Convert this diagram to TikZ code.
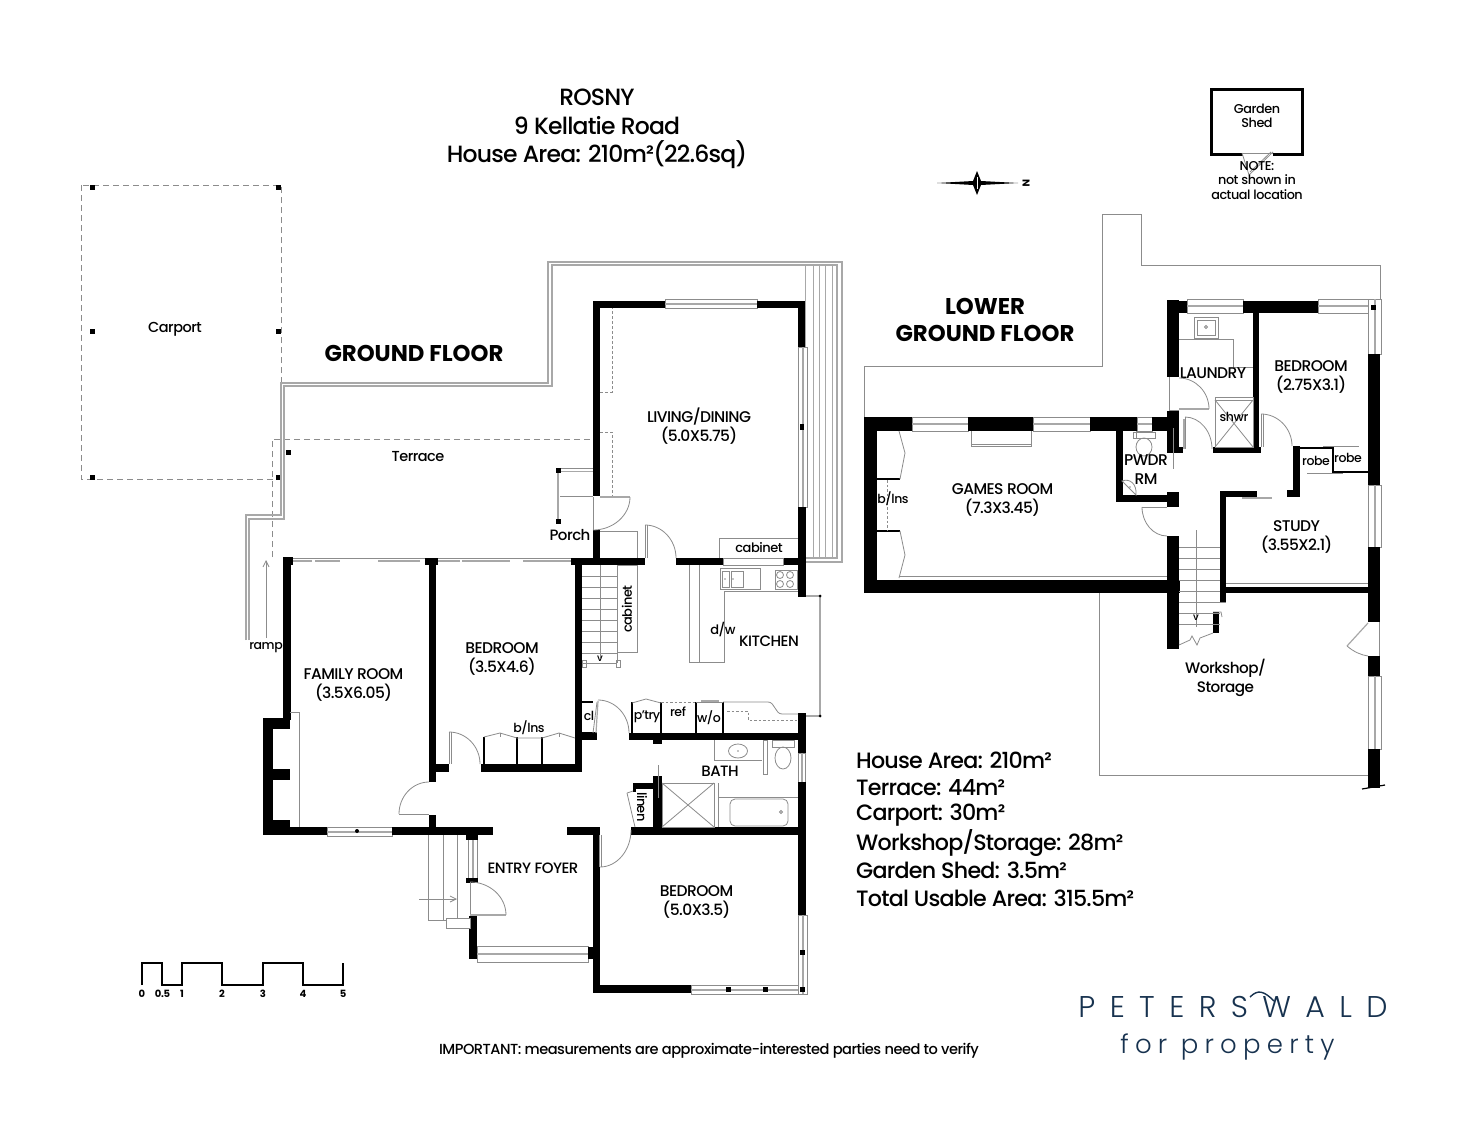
\documentclass[tikz,border=0pt]{standalone}
\usepackage{fontspec}
\usetikzlibrary{calc,arrows.meta}
\setmainfont{Poppins Medium}[BoldFont={Poppins Bold}]
\newfontfamily\lightf{Poppins Light}
\definecolor{gy}{HTML}{8C8C8C}
\definecolor{gl}{HTML}{A8A8A8}
\definecolor{navy}{HTML}{17324F}
\tikzset{
 gt/.style={draw=gy,line width=.8pt},
 gk/.style={draw=gl,line width=2pt},
 bk/.style={draw=black,line width=1.6pt},
 dsh/.style={draw=gy,line width=.8pt,dash pattern=on 6pt off 4pt},
 lbl/.style={inner sep=0pt,align=center,text=black},
 tx/.style 2 args={font=\F{#1}{#2}},
}
\newcommand{\F}[2]{\fontsize{#1}{#2}\selectfont\addfontfeature{LetterSpace=-3.5}}
\newcommand{\walls}[1]{\foreach \a/\b/\c/\d in {#1}{\fill[black] (\a,\b) rectangle (\c,\d);}}
\newcommand{\darc}[6]{\draw[gt] (#1,#2) .. controls ($(#1,#2)!.55!(#3,#4)$) and ($(#5,#6)!.55!(#3,#4)$) .. (#5,#6);}
\newcommand{\hwin}[4]{\draw[gt,fill=white] (#1,#2) rectangle (#3,#4);\draw[gk] (#1,{(#2+#4)/2}) -- (#3,{(#2+#4)/2});}
\newcommand{\vwin}[4]{\draw[gt,fill=white] (#1,#2) rectangle (#3,#4);\draw[gk] ({(#1+#3)/2},#2) -- ({(#1+#3)/2},#4);}
\newcommand{\post}[2]{\fill[black] (#1-2.5,#2-2.5) rectangle (#1+2.5,#2+2.5);}
\begin{document}
\begin{tikzpicture}[x=1pt,y=-1pt]
\useasboundingbox (0,0) rectangle (1472,1137);
\fill[white] (0,0) rectangle (1472,1137);

% ---------- titles
\node[lbl,tx={23.5}{26}] (t1) at (597,97) {ROSNY};
\node[lbl,tx={23.5}{26}] (t2) at (597,126) {9 Kellatie Road};
\node[lbl,tx={23.5}{26}] (t3) at (597,155) {House Area: 210m²(22.6sq)};
\node[lbl,font=\fontsize{22.8}{24}\selectfont\bfseries] (gf) at (414,353) {GROUND FLOOR};
\node[lbl,font=\fontsize{22.8}{27.5}\selectfont\bfseries] (lg) at (985,320) {LOWER\\GROUND FLOOR};

% ---------- carport
\draw[dsh] (81,185) rectangle (281,479);
\foreach \x/\y in {92/187,278/187,92/331,278/331,92/477,278/477,288/452}{\post{\x}{\y}}
\node[lbl,tx={14.5}{16}] (carport) at (175,329) {Carport};
\node[lbl,tx={14.5}{16}] (terrace) at (418,457) {Terrace};

% ---------- terrace rails
\draw[dsh] (272,557) -- (272,439) -- (592,439);
\draw[gk,line width=1.1pt] (246,640) -- (246,515) -- (281,515) -- (281,383) -- (548,383) -- (548,262) -- (842,262) -- (842,562) -- (806,562);
\draw[gk,line width=1.1pt] (249,640) -- (249,519) -- (284,519) -- (284,386) -- (552,386) -- (552,265) -- (837,265) -- (837,558) -- (806,558);
\foreach \x in {805,813,819,825,832}{\draw[draw=gl,line width=.7pt] (\x,265) -- (\x,558);}
\draw[gt,-{Straight Barb[length=6pt,width=6pt]}] (266,638) -- (266,560);
\node[lbl,tx={12.5}{14}] (ramp) at (266,648) {ramp};

% ---------- ground floor windows
\hwin{665}{299}{757}{308}
\hwin{327}{827}{392}{836}
\hwin{477}{946}{588}{962}
\vwin{468}{838}{477}{880}
\hwin{691}{985}{807}{994}
\vwin{798}{915}{807}{994}
\vwin{798}{347}{807}{507}
\vwin{798}{753}{805}{782}
\foreach \x/\y in {728/989,765/989,802/989,802/952}{\post{\x}{\y}}
\fill (800,424) rectangle (804,430);
\fill (357,831) circle (2);
% sliding doors along terrace wall
\draw[gt] (293,558) -- (571,558);
\foreach \a/\b in {293/312,315/340,378/420,438/460,462/510,523/571}{\draw[gl,line width=2pt] (\a,561) -- (\b,561);}

% ---------- ground floor walls
\walls{593/301/600/496, 593/530/600/558, 593/301/665/308, 757/301/805/308, 798/301/805/347,
 798/507/806/597, 798/713/806/753, 798/782/806/850, 798/835/806/915,
 571/558/645/565, 676/558/723/565, 783/558/806/565,
 283/557/293/565, 283/557/291/720, 263/718/290/729, 263/718/273/835, 273/769/290/780, 273/820/290/835,
 263/827/327/835, 392/827/493/835,
 429/558/436/782, 425/558/438/565, 429/815/436/830, 436/764/449/772,
 481/764/582/772, 575/558/582/772, 582/732/597/740,
 629/733/806/740, 653/740/662/744,
 653/776/662/830, 633/783/653/789, 633/783/636/792, 631/827/798/835,
 567/827/600/835, 593/827/600/993, 593/985/691/993,
 469/916/477/959, 588/947/597/959, 466/835/478/840, 466/878/478/883}
\foreach \x in {632,661,696,723}{\draw[bk,line width=1.8pt] (\x,702) -- (\x,733);}
\draw[bk] (582,702) -- (593,702);

% deck/porch area
\draw[gk] (558,470) -- (558,521);
\draw[gt] (558,468.5) -- (593,468.5); \draw[gk,line width=1.2pt] (558,471.5) -- (593,471.5);
\draw[gt] (560,496) -- (593,496);
\draw[gt] (593,497) -- (593,530);
\draw[gk] (600,497) -- (630,497);
\darc{630}{497}{630}{530}{593}{530}
\post{558}{470}\post{558}{521}
\node[lbl,tx={15}{17}] (porch) at (570,535) {Porch};
\draw[gt] (600,531) -- (637,531) -- (637,558);
\draw[dsh,dash pattern=on 3pt off 2pt] (600,392) -- (612,392) -- (612,308);
\draw[dsh,dash pattern=on 3pt off 2pt] (600,432) -- (612,432) -- (612,496);

% stairs
\foreach \y in {576,587,598,609,620,631,642,653}{\draw[gt] (582,\y) -- (617,\y);}
\draw[gt] (600,565) -- (600,658);
\draw[gt] (617,565) -- (617,663);
\draw[gt] (582,663) -- (617,663);
\draw[gt] (582,660) rectangle (586,667); \draw[gt] (616,660) rectangle (620,667);
\node[lbl,tx={10}{11}] (dn1) at (600,659) {v};
\draw[gt] (617,565) -- (637,565) -- (637,652) -- (617,652);
\node[lbl,rotate=90,tx={13}{15}] (cab1) at (627,609) {cabinet};

% living door
\draw[gt] (645,525) -- (645,558); \draw[gt] (647,525) -- (647,558);
\darc{645}{525}{676}{525}{676}{558}

% kitchen
\draw[gt] (719,558) -- (719,538) -- (798,538);
\draw[gt] (723,558.5) rectangle (783,565);
\node[lbl,tx={13}{15}] (cab2) at (759,548) {cabinet};
\draw[gt] (689,565) -- (689,662) -- (724,662) -- (724,591) -- (798,591);
\draw[gt] (699,565) -- (699,662);
\draw[gt] (720,568) rectangle (760,589);
\draw[gt] (722,571) rectangle (729,587); \draw[gt] (731,571) rectangle (743,587);
\fill[gy] (725,579) circle (.9); \fill[gy] (733,579) circle (.9);
\draw[gt] (775,570) rectangle (797,589);
\foreach \x/\y in {780/575,790/575,780/584,790/584}{\draw[gt] (\x,\y) circle (3.5);}
\node[lbl,tx={13}{15}] (dw) at (723,629) {d/w};
\node[lbl,tx={15}{17}] (kitchen) at (769,641.5) {KITCHEN};
\draw[gk,line width=1.3pt] (806,596) -- (820,596) -- (820,716) -- (806,716);
\fill (820,596) circle (1.5); \fill (820,716) circle (1.5);
\draw[gt] (632,703) -- (646,699) -- (661,703);
\draw[dsh,dash pattern=on 2.5pt off 2pt] (661,702) -- (696,702);
\draw[gt] (696,702) -- (723,702);
\draw[gk,line width=1.5pt] (701,701) -- (719,701);
\draw[gt] (723,702) -- (768,702) .. controls (775,702) and (775,714) .. (782,714) -- (798,714);
\draw[dsh,dash pattern=on 2.5pt off 2pt] (727,711) -- (748,711) -- (748,720) -- (798,720);
\node[lbl,tx={12.5}{14}] (cl) at (589,716) {cl};
\node[lbl,tx={12.5}{14}] (ptry) at (647,716.5) {p'try};
\node[lbl,tx={12.5}{14}] (ref) at (678,711.5) {ref};
\node[lbl,tx={12.5}{14}] (wo) at (709,717.5) {w/o};
% cl door
\draw[gt] (593,733) -- (597,702);
\draw[gk,line width=1.2pt] (596,733) -- (598,701);
\darc{598}{700}{629}{700}{629}{733}

% bath
\node[lbl,tx={15}{17}] (bath) at (720,771.5) {BATH};
\draw[gt] (714,740) -- (714,760) -- (762,760);
\draw[gt] (738,751) ellipse (9.5 and 7); \fill[gy] (738,751) circle (.8);
\draw[gt] (763,740) rectangle (767,774);
\draw[gt] (772,740) rectangle (794,747);
\draw[gt] (783,758) ellipse (8 and 11);
\draw[gt] (662,783) rectangle (714,827);
\draw[gt] (662,783) -- (714,827); \draw[gt] (662,827) -- (714,783);
\draw[gt] (718,783) -- (718,827);
\draw[gt] (718,797) -- (798,797);
\draw[gt,rounded corners=5pt] (730,799) rectangle (788,826);
\draw[gt] (781,812) circle (1.5);
\draw[gt] (658,765) -- (658,798);
\draw[gt] (627,793) -- (635,827); \draw[gt] (627,793) -- (633,791);
\node[lbl,rotate=-90,tx={13}{15}] (linen) at (642,807) {linen};

% family room
\draw[gt] (290,712) -- (299,712) -- (299,827);
\darc{429}{782}{399}{782}{399}{814}
\draw[gt] (399,814) -- (429,814);
\node[lbl,tx={15.5}{19}] (fam) at (353.5,685) {FAMILY ROOM\\(3.5X6.05)};
\draw[gt] (449,732) -- (449,764); \draw[gt] (451,732) -- (451,764);
\darc{449}{732}{480}{732}{480}{764}
\node[lbl,tx={15.5}{19}] (bed1) at (502,658.5) {BEDROOM\\(3.5X4.6)};
\foreach \x in {484,517,542}{\draw[bk] (\x,737) -- (\x,764);}
\draw[gt] (484,737) -- (500,733) -- (517,738) -- (542,738) -- (559,733) -- (575,738);
\draw[gt] (500,733) -- (500,737); \draw[gt] (559,733) -- (559,737);
\node[lbl,tx={12.5}{14}] (bins) at (529,728) {b/lns};

% entry
\foreach \x in {428,443,457}{\draw[gt] (\x,835) -- (\x,920);}
\draw[gt] (428,920) -- (446,920);
\draw[gt,fill=white] (446,918) rectangle (470,928);
\draw[gt,-{Straight Barb[length=6pt,width=6pt]}] (419,899) -- (457,899);
\draw[gt] (470,882) -- (470,916);
\draw[gk,line width=1.2pt] (470,915) -- (506,915);
\darc{506}{915}{506}{882}{470}{882}
\node[lbl,tx={15}{17}] (entry) at (533,868.5) {ENTRY FOYER};
\draw[gt] (601,835) -- (601,867); \draw[gt] (599.5,835) -- (599.5,867);
\darc{600}{867}{631}{867}{631}{830}
\node[lbl,tx={15.5}{19}] (bed2) at (696.5,902) {BEDROOM\\(5.0X3.5)};
\node[lbl,tx={15.5}{19}] (living) at (699,426) {LIVING/DINING\\(5.0X5.75)};

% ---------- scale
\draw[bk,line width=1.3pt] (142,985) -- (142,963) -- (162,963) -- (162,985) -- (182,985) -- (182,963) -- (222,963) -- (222,985) -- (263,985) -- (263,963) -- (303,963) -- (303,985) -- (343,985) -- (343,963);
\foreach \x/\t/\n in {142/0/s0,162.5/0.5/s1,182/1/s2,222/2/s3,263/3/s4,303/4/s5,343/5/s6}{\node[lbl] (\n) at (\x,994) {\fontsize{10}{11}\selectfont\bfseries\addfontfeature{LetterSpace=-3} \t};}

% ---------- shed and compass
\draw[black,line width=3pt] (1243,154) -- (1211.5,154) -- (1211.5,89.5) -- (1302.5,89.5) -- (1302.5,154) -- (1273,154);
\draw[gt] (1242,153) -- (1273,153);
\draw[gt] (1242,153) -- (1249,175) -- (1273,152);
\draw[gt] (1250,172) -- (1271,152);
\node[lbl,tx={12.8}{14.5}] (shed) at (1257,116) {Garden\\Shed};
\node[lbl,tx={12.8}{14.5}] (note) at (1257,180.5) {NOTE:\\not shown in\\actual location};
\fill (937,183) -- (973,181) -- (977,171) -- (981,181) -- (1018,183) -- (981,185) -- (977,195) -- (973,185) -- cycle;
\draw[white,line width=.5pt] (977,177) -- (977,189);
\node[lbl,rotate=-90,font=\fontsize{10}{11}\selectfont\bfseries] (north) at (1026,183) {N};

% ---------- lower ground outline
\draw[gt] (864,417) -- (864,366) -- (1102,366) -- (1102,214) -- (1141,214) -- (1141,265) -- (1380,265) -- (1380,299);
\draw[gt] (1099,593) -- (1099,775) -- (1368,775);

% ---------- lower ground windows
\hwin{912}{417}{968}{431}
\hwin{1033}{417}{1090}{431}
\hwin{1137}{417}{1152}{431}
\hwin{1187}{299}{1243}{313}
\hwin{1318}{299}{1381}{313}
\vwin{1368}{299}{1381}{354}
\vwin{1368}{485}{1381}{547}
\vwin{1368}{676}{1381}{749}
\post{1373}{307}

% ---------- lower ground walls
\walls{864/417/912/431, 968/417/1033/431, 1090/417/1137/431, 1152/417/1168/431,
 864/417/877/593, 864/580/1180/593,
 1167/536/1179/649, 1167/300/1179/377, 1167/301/1187/313, 1243/301/1318/313,
 1368/354/1380/485, 1368/547/1380/622, 1368/656/1380/676, 1368/749/1380/788,
 1253/313/1259/450, 1213/447/1261/453,
 1167/411/1179/453, 1179/447/1183/453,
 1293/446/1300/497, 1287/490/1300/497,
 1116/431/1123/502, 1116/495/1179/502, 1167/492/1179/507,
 1220/491/1226/602, 1220/491/1257/497, 1226/587/1368/593,
 1213/612/1219/633}
\fill (1167,649) -- (1179,645) -- (1179,640) -- (1167,640) -- cycle;
\draw[black,line width=1.2pt] (1362,789) -- (1385,785);
\draw[bk] (1300,448) -- (1333,448) -- (1333,472) -- (1368,472);
\draw[gt] (1323,446) -- (1359,446);
\draw[gt] (1307,473) -- (1343,473);
\node[lbl,tx={12.5}{14}] (robe1) at (1316,461) {robe};
\node[lbl,tx={12.5}{14}] (robe2) at (1348,458) {robe};
\draw[gk,line width=1.2pt] (1242,498) -- (1272,498);

% games room
\draw[gt] (971,431) -- (971,446) -- (1031,446) -- (1031,431);
\draw[gt] (971,444) -- (1031,444);
\draw[bk] (877,479) -- (900,479); \draw[bk] (877,531) -- (900,531);
\draw[gt] (899,431) -- (905,453) -- (900,479);
\draw[gt] (900,531) -- (905,555) -- (899,578);
\draw[dsh,dash pattern=on 2.5pt off 2pt] (887,480) -- (887,530);
\draw[gt] (900,576) -- (1167,576);
\node[lbl,tx={12.5}{14}] (binsb) at (893,499) {b/lns};
\node[lbl,tx={15.5}{19}] (games) at (1002.5,499.5) {GAMES ROOM\\(7.3X3.45)};

% pwdr
\draw[gt] (1133,432) rectangle (1155,438);
\draw[gt] (1136,431) -- (1136,438);
\draw[gt] (1144,447) ellipse (8 and 9);
\draw[gt] (1122,481) .. controls (1130,478) and (1137,484) .. (1136,495) -- cycle;
\fill[gy] (1130,487) circle (.8);
\draw[gt] (1173,428) -- (1173,469);
\node[lbl,tx={15.5}{19}] (pwdr) at (1146,470) {PWDR\\RM};
\draw[gt] (1142,507) -- (1167,507);
\darc{1142}{507}{1142}{536}{1167}{536}

% laundry
\draw[gt] (1194,317) rectangle (1218,338);
\draw[gt] (1197,320) rectangle (1215,335);
\draw[gt] (1206,327) circle (1.5);
\draw[gt] (1179,339) -- (1233,339) -- (1233,367) -- (1253,367);
\node[lbl,tx={15.5}{17}] (laundry) at (1213,373.5) {LAUNDRY};
\draw[gt] (1169,377) -- (1169,410) -- (1179,410);
\draw[gk,line width=1.2pt] (1179,409) -- (1209,409);
\darc{1179}{378}{1209}{378}{1209}{409}
\draw[gt] (1185,417) -- (1185,449);
\draw[gk,line width=1.2pt] (1184,419) -- (1184,449);
\darc{1185}{417}{1212}{417}{1212}{449}
\draw[gt] (1215,397) rectangle (1253,447);
\draw[gt] (1215,400) -- (1253,400);
\draw[gt] (1215,400) -- (1253,447); \draw[gt] (1215,447) -- (1253,400);
\node[lbl,tx={12.5}{14}] (shwr) at (1234,417) {shwr};

% lower bedroom
\draw[gt] (1261,414) -- (1261,447); \draw[gt] (1263,414) -- (1263,447);
\darc{1261}{414}{1292}{414}{1292}{446}
\draw[gt] (1318,313) -- (1368,313);
\node[lbl,tx={15.5}{19}] (bed3) at (1311,377) {BEDROOM\\(2.75X3.1)};
\node[lbl,tx={15.5}{19}] (study) at (1296.5,536.5) {STUDY\\(3.55X2.1)};

% lower stairs
\foreach \y in {547,558,569,580,591,602,613,624}{\draw[gt] (1179,\y) -- (1220,\y);}
\draw[gt] (1196,530) -- (1196,627);
\draw[gt] (1179,645) -- (1190,640) -- (1192,636) -- (1197,645) -- (1200,638) -- (1213,633);
\node[lbl,tx={10}{11}] (dn2) at (1196,618) {v};
\draw[gt] (1213,612) -- (1221,612) -- (1222,617);
\draw[gt] (1226,583) -- (1368,583);
\draw[gt] (1220,602) -- (1226,602);

% workshop door
\draw[gk,line width=1.2pt] (1368,623) -- (1347,646);
\draw[gt] (1347,646) .. controls (1354,652) and (1361,655) .. (1368,656);
\draw[gt] (1379,622) -- (1379,656);
\node[lbl,tx={15.2}{18.5}] (workshop) at (1225.5,678) {Workshop/\\Storage};

% ---------- areas
\node[lbl,anchor=west,tx={22.2}{24}] (a1) at (856,760.5) {House Area: 210m²};
\node[lbl,anchor=west,tx={22.2}{24}] (a2) at (856,788) {Terrace: 44m²};
\node[lbl,anchor=west,tx={22.2}{24}] (a3) at (856,815.5) {Carport: 30m²};
\node[lbl,anchor=west,tx={22.2}{24}] (a4) at (856,843) {Workshop/Storage: 28m²};
\node[lbl,anchor=west,tx={22.2}{24}] (a5) at (856,870.5) {Garden Shed: 3.5m²};
\node[lbl,anchor=west,tx={22.2}{24}] (a6) at (856,898) {Total Usable Area: 315.5m²};

% ---------- footer
\node[lbl,tx={14.6}{17}] (imp) at (709,1050.5) {IMPORTANT: measurements are approximate-interested parties need to verify};
\node[lbl,text=navy] (logo) at (1233,1007) {\lightf\fontsize{30}{32}\selectfont\addfontfeature{LetterSpace=48}PETERSWALD};
\draw[navy,line width=1.4pt] (1250,997) .. controls (1258,989) and (1264,991) .. (1274,1001);
\node[lbl,text=navy] (logo2) at (1227.5,1047) {\lightf\fontsize{26}{28}\selectfont\addfontfeature{LetterSpace=24}for property};
\end{tikzpicture}
\end{document}
